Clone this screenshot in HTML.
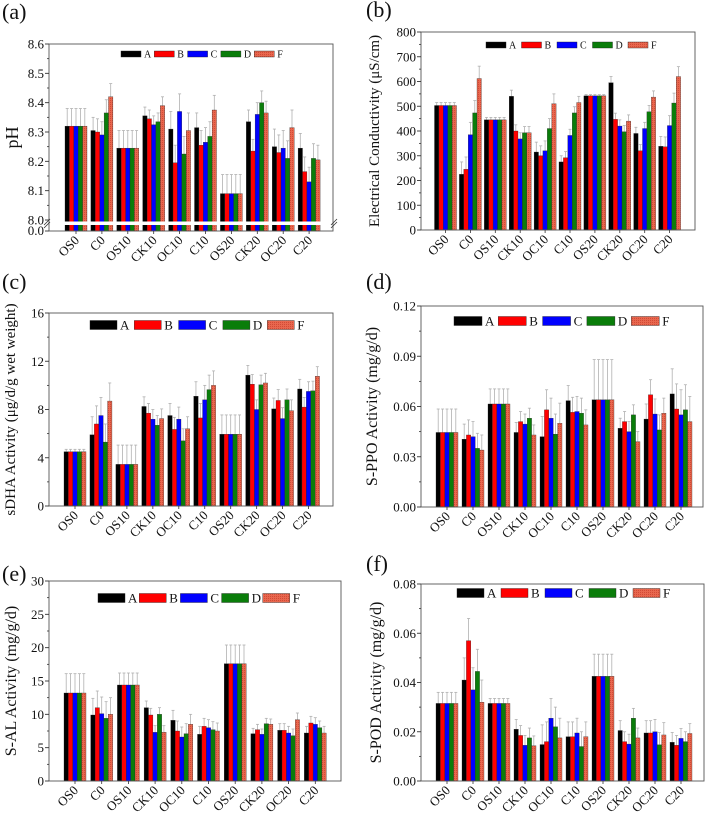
<!DOCTYPE html>
<html><head><meta charset="utf-8">
<style>
html,body{margin:0;padding:0;background:#fff;}
svg{display:block;font-family:"Liberation Serif",serif;}
</style></head>
<body>
<svg id="fig" width="709" height="813" viewBox="0 0 709 813" xmlns="http://www.w3.org/2000/svg">
<defs>
<pattern id="dots" width="2" height="2" patternUnits="userSpaceOnUse"><rect width="2" height="2" fill="#e8674e"/><rect width="1" height="1" fill="#d24a36"/></pattern>
</defs>
</svg>
<script>
const categories = ["OS0","C0","OS10","CK10","OC10","C10","OS20","CK20","OC20","C20"];
const seriesNames = ["A","B","C","D","F"];

const phA = [8.32,8.305,8.245,8.355,8.31,8.315,8.09,8.335,8.25,8.245];
const phB = [8.32,8.30,8.245,8.345,8.195,8.255,8.09,8.235,8.23,8.165];
const phC = [8.32,8.29,8.245,8.325,8.37,8.265,8.09,8.36,8.245,8.13];
const phD = [8.32,8.365,8.245,8.335,8.225,8.285,8.09,8.40,8.21,8.21];
const phF = [8.32,8.42,8.245,8.39,8.305,8.375,8.09,8.365,8.315,8.205];
const phErr = [0.06,0.045,0.06,0.03,0.06,0.05,0.065,0.04,0.06,0.05];

const ecA = [503,225,445,540,315,275,542,595,390,338];
const ecB = [503,245,445,400,300,292,542,447,320,336];
const ecC = [503,385,445,368,320,382,542,420,410,422];
const ecD = [503,473,445,393,410,473,542,397,478,513];
const ecF = [503,612,445,393,510,515,542,440,537,620];
const ecErr = [12,50,10,25,40,25,5,25,25,40];

const dhaA = [4.5,5.9,3.45,8.25,7.5,9.1,5.95,10.85,8.05,9.7];
const dhaB = [4.5,6.8,3.45,7.7,6.35,7.3,5.95,10.1,8.75,8.2];
const dhaC = [4.5,7.5,3.45,7.2,7.2,8.8,5.95,8.0,7.25,9.5];
const dhaD = [4.5,5.3,3.45,6.7,5.4,9.65,5.95,10.05,8.8,9.55];
const dhaF = [4.5,8.7,3.45,7.25,6.4,10.0,5.95,10.2,7.9,10.75];
const dhaErr = [0.2,1.5,1.6,0.8,1.0,1.2,1.6,0.8,0.9,0.8];

const ppoA = [0.0445,0.0405,0.0615,0.0445,0.042,0.0635,0.064,0.047,0.0525,0.0675];
const ppoB = [0.0445,0.043,0.0615,0.051,0.058,0.0565,0.064,0.051,0.067,0.0585];
const ppoC = [0.0445,0.042,0.0615,0.0495,0.053,0.057,0.064,0.045,0.0555,0.055];
const ppoD = [0.0445,0.035,0.0615,0.053,0.0435,0.056,0.064,0.055,0.046,0.058];
const ppoF = [0.0445,0.034,0.0615,0.043,0.05,0.049,0.064,0.039,0.056,0.051];
const ppoErr = [0.014,0.009,0.009,0.006,0.012,0.009,0.024,0.006,0.009,0.015];

const alA = [13.2,9.9,14.4,11.0,9.1,7.0,17.6,7.1,7.6,7.2];
const alB = [13.2,11.0,14.4,9.9,7.5,8.2,17.6,7.7,7.6,8.7];
const alC = [13.2,10.1,14.4,7.3,6.6,8.0,17.6,7.0,7.2,8.5];
const alD = [13.2,9.4,14.4,10.0,7.1,7.7,17.6,8.6,6.8,8.0];
const alF = [13.2,10.0,14.4,7.3,8.5,7.5,17.6,8.5,9.2,7.2];
const alErr = [2.9,2.5,1.8,1.0,1.5,1.2,2.8,0.8,1.0,1.0];

const podA = [0.0315,0.041,0.0315,0.021,0.0148,0.018,0.0425,0.0205,0.0195,0.0157];
const podB = [0.0315,0.057,0.0315,0.0185,0.016,0.018,0.0425,0.016,0.0195,0.0145];
const podC = [0.0315,0.037,0.0315,0.0145,0.0255,0.0195,0.0425,0.015,0.020,0.0173];
const podD = [0.0315,0.0445,0.0315,0.0175,0.022,0.014,0.0425,0.0255,0.0147,0.016];
const podF = [0.0315,0.032,0.0315,0.0143,0.0175,0.018,0.0425,0.0175,0.0187,0.0193];
const podErr = [0.0045,0.009,0.002,0.004,0.008,0.006,0.009,0.004,0.005,0.004];

const phTicks = [8.0,8.1,8.2,8.3,8.4,8.5,8.6];
const ecTicks = [0,100,200,300,400,500,600,700,800];
const dhaTicks = [0,4,8,12,16];
const ppoTicks = [0,0.03,0.06,0.09,0.12];
const alTicks = [0,5,10,15,20,25,30];
const podTicks = [0,0.02,0.04,0.06,0.08];

const colors = ["#000000","#ff0000","#0000ff","#0a7d0a","url(#dots)"];
const NS = "http://www.w3.org/2000/svg";
const svg = document.getElementById("fig");
function mk(tag, attrs, parent, txt){
  const e = document.createElementNS(NS, tag);
  for (const k in attrs) e.setAttribute(k, attrs[k]);
  if (txt !== undefined) e.textContent = txt;
  (parent||svg).appendChild(e);
  return e;
}

function panel(p){
  const g = mk("g", {});
  
  
  const yS = v => p.yBot - (v - p.vmin) / (p.vmax - p.vmin) * (p.yBot - p.yTop);
  const base = p.base || p.yBot;
  const xS = i => p.c0 + i * p.step;
  const bw = 4.4;
  p.series.forEach((arr, s) => {
    arr.forEach((v, i) => {
      const x = xS(i) + (s - 2.5) * bw;
      const y = yS(v);
      const e = p.err[i];
      const ey = yS(v + e);
      const eb = mk("line", {x1:x+bw/2, x2:x+bw/2, y1:y, y2:ey, stroke:"#b0b0b0", "stroke-width":0.8}, g);
      
      
      mk("line", {x1:x+bw/2-1.5, x2:x+bw/2+1.5, y1:ey, y2:ey, stroke:"#b0b0b0", "stroke-width":0.8}, g);
      const r = mk("rect", {x:x, y:y, width:bw, height:base - y, fill:colors[s], stroke:"#222", "stroke-width":0.3}, g);
      
      
    });
  });
  const box = mk("rect", {x:p.x0, y:p.yTop, width:p.x1 - p.x0, height:base - p.yTop, fill:"none", stroke:"#555", "stroke-width":0.9}, g);
  
  
  p.ticks.forEach((t, k) => {
    const y = yS(t);
    mk("line", {x1:p.x0 - 4, x2:p.x0, y1:y, y2:y, stroke:"#333", "stroke-width":0.9}, g);
    if (k < p.ticks.length - 1) {
      const ym = yS((t + p.ticks[k+1]) / 2);
      mk("line", {x1:p.x0 - 2, x2:p.x0, y1:ym, y2:ym, stroke:"#333", "stroke-width":0.8}, g);
    }
    const tl = mk("text", {x:p.x0 - 5, y:y + 4.5, "text-anchor":"end", "font-size":13, fill:"#111"}, g, p.fmt(t));
    
    
  });
  categories.forEach((c, i) => {
    const x = xS(i);
    mk("line", {x1:x, x2:x, y1:base, y2:base + 3, stroke:"#333", "stroke-width":0.8}, g);
    const tx = mk("text", {x:x + 4, y:base + 10, "text-anchor":"end", "font-size":13, fill:"#111", transform:`rotate(-45 ${x+4} ${base+10})`}, g, c);
    
    
  });
  seriesNames.forEach((n, s) => {
    const lx = p.leg.x + s * p.leg.step;
    const sw = mk("rect", {x:lx, y:p.leg.y - p.leg.h/2, width:p.leg.w, height:p.leg.h, fill:colors[s], stroke:"#222", "stroke-width":0.4}, g);
    
    
    const lt = mk("text", {x:lx + p.leg.w + 3, y:p.leg.y + p.leg.fs*0.35, "font-size":p.leg.fs, fill:"#111"}, g, n);
    
    
  });
  const yl = mk("text", {x:p.ylx, y:(p.yTop + base)/2, "text-anchor":"middle", "font-size":p.ylfs || 15, fill:"#111", transform:`rotate(-90 ${p.ylx} ${(p.yTop + base)/2})`}, g, p.ylabel);
  
  
  const lt = mk("text", {x:p.letter[0], y:p.letter[1], "font-size":22, fill:"#111"}, g, p.letterText);
  
  
  return {g, yS};
}

const f1 = v => v.toFixed(1);
const pa = panel({id:"ph", x0:49, x1:333, yTop:44, yBot:220, base:231, vmin:8.0, vmax:8.6, ticks:phTicks, fmt:f1,
  c0:76, step:25.9, series:[phA,phB,phC,phD,phF], err:phErr,
  leg:{x:121, y:54, step:33.3, w:20, h:6, fs:10}, ylabel:"pH", ylx:18, ylfs:18, letter:[2,19], letterText:"(a)"});
const gap = mk("rect", {x:50, y:221.5, width:282, height:3.5, fill:"#fff"}, pa.g);


mk("line", {x1:44, x2:50, y1:225, y2:219, stroke:"#333", "stroke-width":0.8}, pa.g);
mk("line", {x1:44, x2:50, y1:228, y2:222, stroke:"#333", "stroke-width":0.8}, pa.g);
mk("line", {x1:331, x2:337, y1:225, y2:219, stroke:"#333", "stroke-width":0.8}, pa.g);
mk("line", {x1:331, x2:337, y1:228, y2:222, stroke:"#333", "stroke-width":0.8}, pa.g);
mk("line", {x1:45, x2:49, y1:231, y2:231, stroke:"#333", "stroke-width":0.9}, pa.g);
mk("text", {x:44, y:235, "text-anchor":"end", "font-size":13, fill:"#111"}, pa.g, "0.0");

panel({id:"ec", x0:421, x1:695, yTop:32, yBot:230, vmin:0, vmax:800, ticks:ecTicks, fmt:v=>String(v),
  c0:445.5, step:24.9, series:[ecA,ecB,ecC,ecD,ecF], err:ecErr,
  leg:{x:486, y:45, step:35.5, w:20, h:6, fs:10}, ylabel:"Electrical Conductivity (μS/cm)", ylx:379, ylfs:15, letter:[366,17], letterText:"(b)"});
panel({id:"dha", x0:49, x1:333, yTop:313, yBot:506, vmin:0, vmax:16, ticks:dhaTicks, fmt:v=>String(v),
  c0:75, step:25.95, series:[dhaA,dhaB,dhaC,dhaD,dhaF], err:dhaErr,
  leg:{x:90, y:325, step:44.3, w:27, h:9, fs:13}, ylabel:"sDHA Activity (μg/d/g wet weight)", ylx:15, ylfs:15, letter:[2,289], letterText:"(c)"});
panel({id:"ppo", x0:421, x1:703, yTop:306, yBot:507, vmin:0, vmax:0.12, ticks:ppoTicks, fmt:v=>v.toFixed(2),
  c0:447, step:26, series:[ppoA,ppoB,ppoC,ppoD,ppoF], err:ppoErr,
  leg:{x:454, y:321, step:44.3, w:28, h:9, fs:13}, ylabel:"S-PPO Activity (mg/g/d)", ylx:377, ylfs:16, letter:[366,289], letterText:"(d)"});
panel({id:"al", x0:49, x1:341, yTop:581, yBot:781, vmin:0, vmax:30, ticks:alTicks, fmt:v=>String(v),
  c0:75, step:26.7, series:[alA,alB,alC,alD,alF], err:alErr,
  leg:{x:98, y:598, step:41.2, w:27, h:9, fs:13}, ylabel:"S-AL Activity (mg/g/d)", ylx:16, ylfs:16, letter:[2,581], letterText:"(e)"});
panel({id:"pod", x0:421, x1:704, yTop:584, yBot:781, vmin:0, vmax:0.08, ticks:podTicks, fmt:v=>v.toFixed(2),
  c0:447, step:26, series:[podA,podB,podC,podD,podF], err:podErr,
  leg:{x:457, y:593, step:44, w:27, h:9, fs:13}, ylabel:"S-POD Activity (mg/g/d)", ylx:381, ylfs:16, letter:[366,571], letterText:"(f)"});
</script>
</body></html>
